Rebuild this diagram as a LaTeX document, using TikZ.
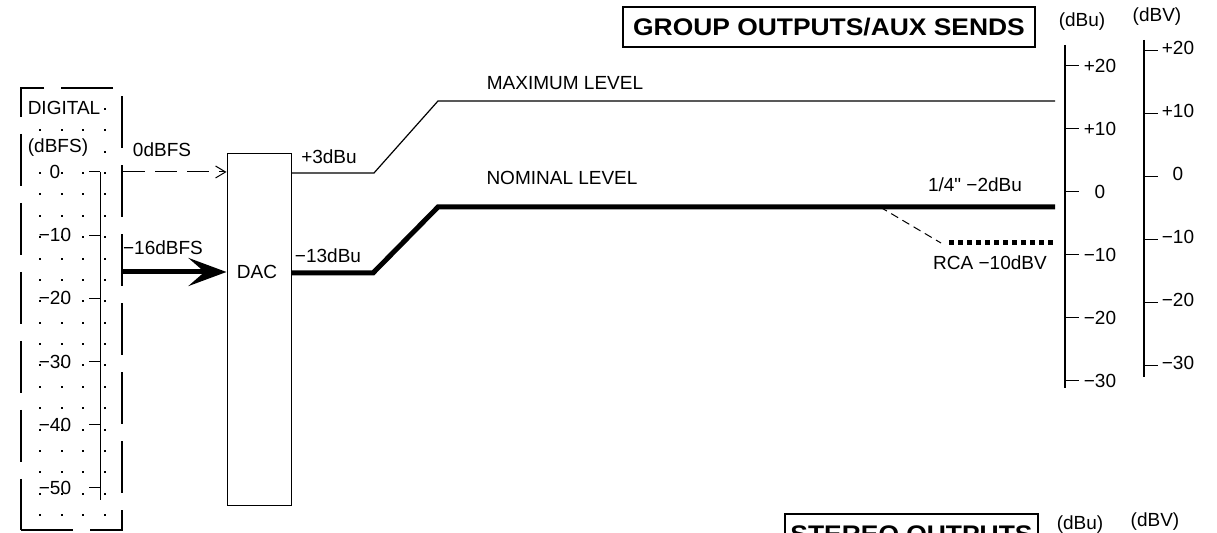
\documentclass[tikz,border=0pt]{standalone}
\usepackage{fontspec}
\setmainfont{Liberation Sans}
\newfontfamily\titlefont{Liberation Sans}[FakeStretch=1.1]
\newfontfamily\quotefont{Liberation Sans}
\usetikzlibrary{arrows.meta}

\tikzset{
  heading/.style={draw, line width=0.6pt, inner sep=0pt, minimum height=20pt,
    font=\titlefont\bfseries\fontsize{12}{14}\selectfont},
  level/.style={line width=0.6pt},
  nominal/.style={line width=2.5pt}
}

\begin{document}
\begin{tikzpicture}[x=0.5pt, y=-0.5pt, line width=0.5pt, font=\fontsize{9.5}{11}\selectfont]
  \useasboundingbox (0,0) rectangle (1217,533);
  \clip (0,0) rectangle (1217,533);

  % digital side
  \node (digital) at (71.5,309) [draw, line width=0.6pt, dash pattern=on 26pt off 8.5pt,
    minimum width=50.5pt, minimum height=221pt, inner sep=0pt] {};
  \foreach \row in {0,...,19}
    \foreach \col in {40,62,83,105}
      \fill (\col-1,109+21.37*\row-1) rectangle +(2,2);
  \node (dig)  at (64,108) [fill=white, inner sep=0.5pt] {DIGITAL};
  \node (dbfs) at (58,148) [fill=white, inner sep=0.5pt] {(dBFS)};
  \draw (100,172) -- (100,500);
  \foreach \v [count=\i from 0] in {0,−10,−20,−30,−40,−50} {
    \draw (89,172+63.2*\i) -- (100,172+63.2*\i);
    \node at (55,172+63.2*\i) {\v};
  }

  % converter
  \node (dac) at (259,330) [draw, minimum width=32pt, minimum height=176pt] {};
  \node (daclabel) at (257,272) {DAC};
  \coordinate (fszero) at (123,172);
  \coordinate (fsnom)  at (123,272);
  \draw[dash pattern=on 11pt off 5pt, -{Straight Barb[length=5pt,width=6pt]}]
    (fszero) -- (dac.west |- fszero);
  \draw[nominal, -{Stealth[length=19pt,width=14pt,inset=8pt]}]
    (fsnom) -- (dac.west |- fsnom);
  \node (zerofs) at (162,150) {0dBFS};
  \node (nomfs)  at (163,248) {−16dBFS};

  % output levels
  \coordinate (maxbend) at (374,173);
  \coordinate (maxtop)  at (438,101);
  \coordinate (maxend)  at (1055,101);
  \coordinate (nombend) at (373,273);
  \coordinate (nomtop)  at (438,207);
  \coordinate (nomend)  at (1055,207);
  \coordinate (split)   at (880,207);
  \coordinate (rca)     at (941,243);
  \coordinate (rcaend)  at (1053,243);
  \draw[level] (dac.east |- maxbend) -- (maxbend) -- (maxtop) -- (maxend);
  \draw[nominal] (dac.east |- nombend) -- (nombend) -- (nomtop) -- (nomend);
  \draw[dash pattern=on 4pt off 2.5pt] (split) -- (rca);
  \draw[nominal, dash pattern=on 2.3pt off 2.2pt] ([xshift=4]rca) -- (rcaend);
  \node (plus3)   at (329,157) {+3dBu};
  \node (minus13) at (328,256) {−13dBu};
  \node (maxlbl)  at (565,83)  {MAXIMUM LEVEL};
  \node (nomlbl)  at (562,178) {NOMINAL LEVEL};
  \node (quarter) at (975,185) {1/4{\quotefont"} −2dBu};
  \node (rcalbl)  at (990,263) {RCA −10dBV};

  % scales
  \node (group) at (829,27) [heading, minimum width=206pt] {GROUP OUTPUTS/AUX SENDS};
  \node (dbu) at (1082,22) {(dBu)};
  \node (dbv) at (1157,17) {(dBV)};
  \draw[level] (1065,45) -- (1065,388);
  \foreach \v [count=\i from 0] in {+20,+10,0,−10,−20,−30} {
    \draw (1065,66+63*\i) -- (1079,66+63*\i);
    \node at (1100,66+63*\i) {\v};
  }
  \draw[level] (1144,40) -- (1144,377);
  \foreach \v [count=\i from 0] in {+20,+10,0,−10,−20,−30} {
    \draw (1144,51+63*\i) -- (1158,51+63*\i);
    \node at (1178,48+63*\i) {\v};
  }

  % next panel, cut off
  \node (stereo) at (911.5,534) [heading, minimum width=126.5pt] {STEREO OUTPUTS};
  \node (dbu2) at (1080,525) {(dBu)};
  \node (dbv2) at (1155,522) {(dBV)};
\end{tikzpicture}
\end{document}
